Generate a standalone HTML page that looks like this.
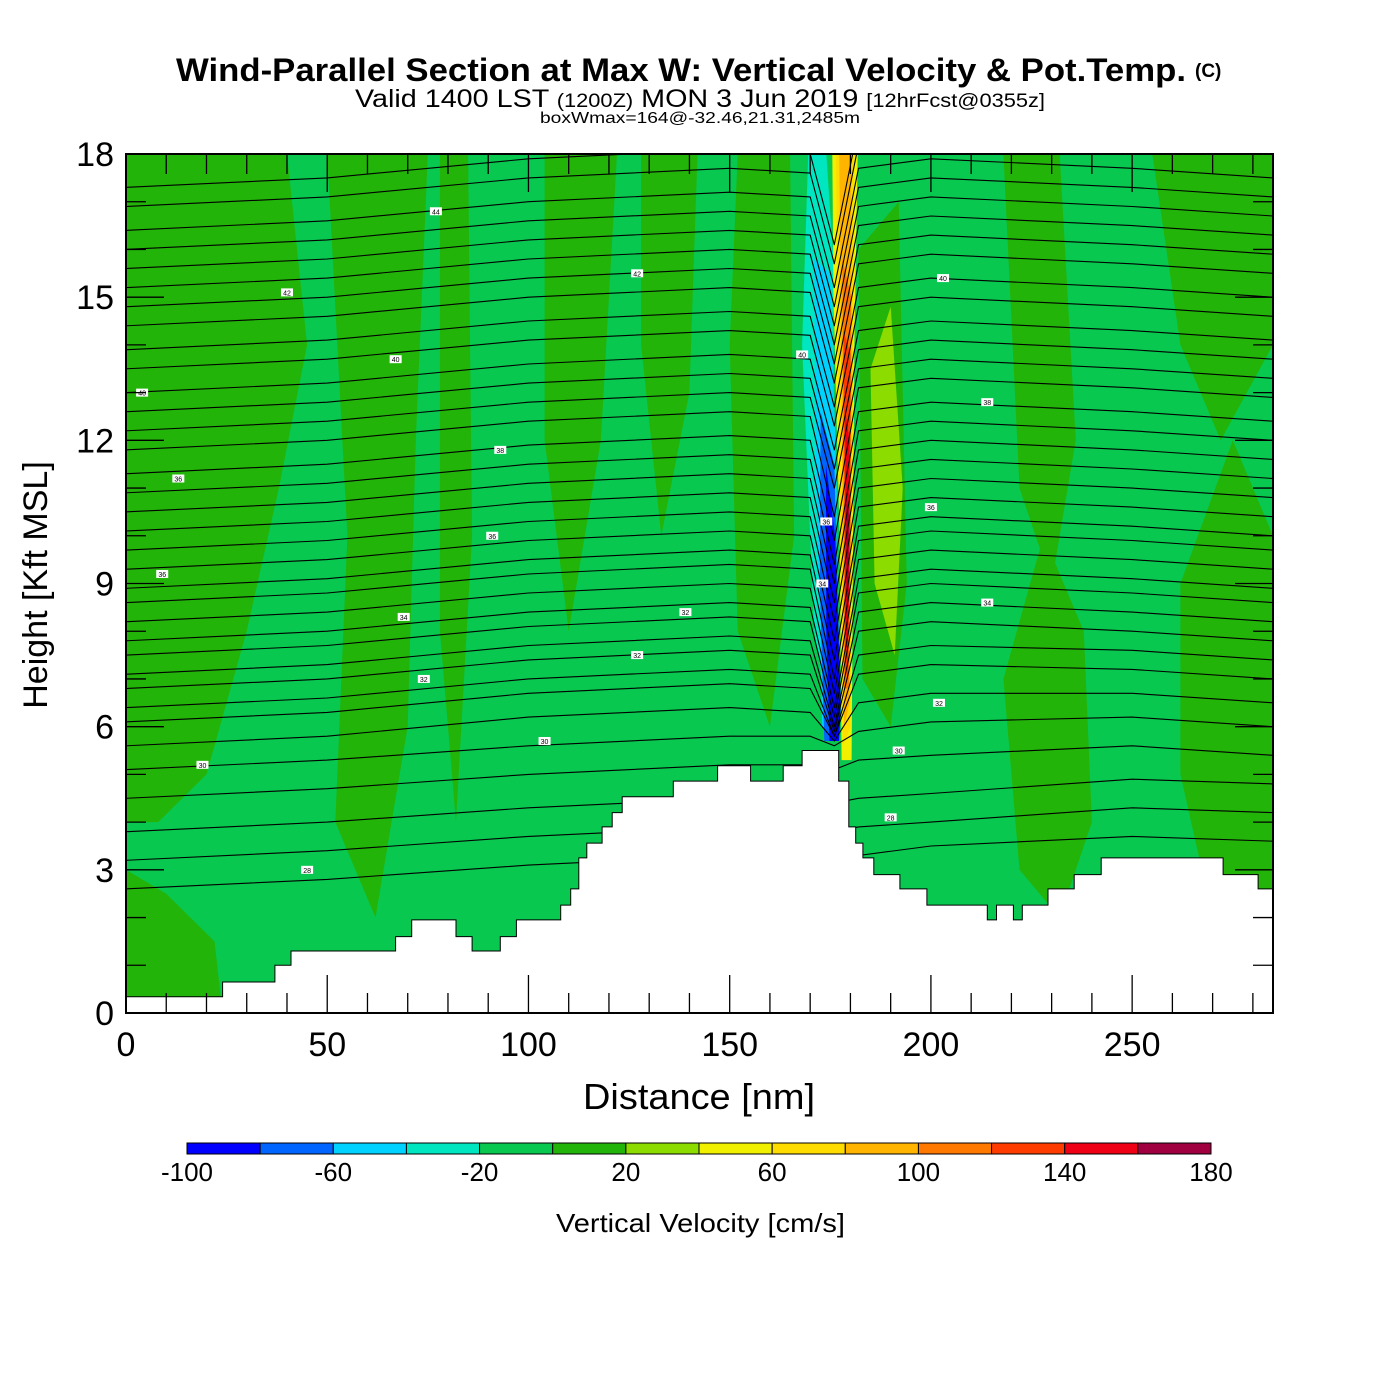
<!DOCTYPE html>
<html><head><meta charset="utf-8">
<style>
html,body{margin:0;padding:0;background:#fff;}
svg{display:block;font-family:"Liberation Sans",Arial,sans-serif;}
</style></head>
<body>
<svg id="chart" width="1400" height="1400" viewBox="0 0 1400 1400" xmlns="http://www.w3.org/2000/svg">
<rect width="1400" height="1400" fill="#fff"/>
<text x="176" y="81" font-size="32" font-weight="bold" textLength="1010" lengthAdjust="spacingAndGlyphs">Wind-Parallel Section at Max W: Vertical Velocity &amp; Pot.Temp.</text>
<text x="1195" y="77" font-size="19" font-weight="bold">(C)</text>
<text x="355" y="107" font-size="25" textLength="690" lengthAdjust="spacingAndGlyphs">Valid 1400 LST <tspan font-size="19">(1200Z)</tspan> MON 3 Jun 2019 <tspan font-size="19">[12hrFcst@0355z]</tspan></text>
<text x="540" y="123" font-size="16" textLength="320" lengthAdjust="spacingAndGlyphs">boxWmax=164@-32.46,21.31,2485m</text>
<defs><clipPath id="plotclip"><rect x="126" y="154" width="1147" height="859"/></clipPath></defs>
<g id="plot" clip-path="url(#plotclip)">
<rect x="126" y="154" width="1147" height="859" fill="#08c850"/>
<g id="fills"></g>
<g id="contours"></g>
<g id="terrain"></g>
<g id="labels"></g>
</g>
<rect x="126" y="154" width="1147" height="859" fill="none" stroke="#000" stroke-width="2"/>
<g id="axes"></g>
<text x="583" y="1109" font-size="36" textLength="232" lengthAdjust="spacingAndGlyphs">Distance [nm]</text>
<text transform="translate(47,585) rotate(-90)" text-anchor="middle" font-size="34">Height [Kft MSL]</text>
<g id="colorbar"></g>
<text x="556" y="1232" font-size="26" textLength="289" lengthAdjust="spacingAndGlyphs">Vertical Velocity [cm/s]</text>
</svg>
<script>
// ---- data ----
const xTicks = [0,50,100,150,200,250];
const yTicks = [0,3,6,9,12,15,18];
const cbLevels = [-100,-80,-60,-40,-20,0,20,40,60,80,100,120,140,160,180];
const cbColors = ["#0000ff","#0064ff","#00d2ff","#00e6c0","#08c850","#23b40a","#8cdc00","#f0f000","#ffdc00","#ffb400","#ff7800","#ff3c00","#f00014","#a00040"];
const cbLabels = [-100,-60,-20,20,60,100,140,180];
// terrain steps: edges (nm) and heights (kft)
const terrainEdges = [0,24,37,41,67,71,82,86,93,97,108,110.5,112.5,114.5,118.3,120.8,123.3,136,147,155.2,163.3,168,174.5,177.1,179.6,181.3,183.1,185.8,192.3,199,214,216.3,220.5,222.7,229.1,235.6,242.3,249,272.6,281.3,285];
const terrainHeights = [0.34,0.65,1.0,1.3,1.6,1.95,1.6,1.3,1.6,1.95,2.26,2.6,3.25,3.56,3.9,4.2,4.53,4.86,5.18,4.86,5.18,5.5,5.5,4.86,3.9,3.56,3.25,2.9,2.6,2.26,1.95,2.26,1.95,2.26,2.6,2.9,3.25,3.25,2.9,2.6];
// theta contours: heights (kft) at distance nodes
const contourNodes = [0,50,100,150,170,176,182,200,250,285];
const contourLevels = [
[17.3,17.5,17.9,18.1,18.0,16.1,18.6,18.8,18.6,18.4],
[16.9,17.1,17.5,17.7,17.6,15.7,18.2,18.4,18.2,18.0],
[16.4,16.6,17.0,17.2,17.1,15.2,17.7,17.9,17.7,17.5],
[16.0,16.2,16.6,16.8,16.7,14.8,17.3,17.5,17.3,17.1],
[15.6,15.8,16.2,16.4,16.3,14.4,16.9,17.1,16.9,16.7],
[15.2,15.4,15.8,16.0,15.9,14.0,16.5,16.7,16.5,16.3],
[14.8,15.0,15.4,15.6,15.5,13.6,16.1,16.3,16.1,15.9],
[14.4,14.6,15.0,15.2,15.1,13.2,15.7,15.9,15.7,15.5],
[13.9,14.1,14.5,14.7,14.6,12.7,15.2,15.4,15.2,15.0],
[13.5,13.7,14.1,14.3,14.2,12.3,14.8,15.0,14.8,14.6],
[13.0,13.2,13.6,13.8,13.7,11.8,14.3,14.5,14.3,14.1],
[12.6,12.8,13.2,13.4,13.3,11.4,13.9,14.1,13.9,13.7],
[12.2,12.4,12.8,13.0,12.9,11.0,13.5,13.7,13.5,13.3],
[11.8,12.0,12.4,12.6,12.5,10.4,13.1,13.3,13.1,12.9],
[11.3,11.5,11.9,12.1,12.0,9.9,12.6,12.8,12.6,12.4],
[10.9,11.1,11.5,11.7,11.6,9.4,12.2,12.4,12.2,12.0],
[10.5,10.7,11.1,11.3,11.2,9.0,11.8,12.0,11.8,11.6],
[10.1,10.3,10.7,10.9,10.8,8.6,11.4,11.6,11.4,11.2],
[9.7,9.9,10.3,10.5,10.4,8.2,11.0,11.2,11.0,10.8],
[9.3,9.5,9.9,10.1,10.0,7.8,10.6,10.8,10.6,10.4],
[8.9,9.1,9.5,9.7,9.6,7.4,10.2,10.4,10.2,10.0],
[8.6,8.8,9.2,9.4,9.3,7.0,9.9,10.1,9.9,9.7],
[8.2,8.4,8.8,9.0,8.9,6.7,9.5,9.7,9.5,9.3],
[7.8,8.0,8.4,8.6,8.5,6.4,9.1,9.3,9.1,8.9],
[7.5,7.7,8.1,8.3,8.2,6.2,8.8,9.0,8.8,8.6],
[7.1,7.3,7.7,7.9,7.8,6.0,8.4,8.6,8.4,8.2],
[6.8,7.0,7.4,7.6,7.5,5.9,8.0,8.2,8.0,7.8],
[6.4,6.6,7.0,7.2,7.1,5.8,7.5,7.7,7.6,7.4],
[6.1,6.3,6.7,6.9,6.8,5.8,7.1,7.3,7.2,7.0],
[5.6,5.8,6.2,6.4,6.3,5.7,6.5,6.7,6.7,6.5],
[5.1,5.3,5.6,5.8,5.8,5.6,5.9,6.1,6.2,6.0],
[4.5,4.7,5.0,5.2,5.2,5.1,5.3,5.4,5.6,5.4],
[3.8,4.0,4.3,4.5,4.5,4.4,4.5,4.6,4.9,4.8],
[3.2,3.4,3.7,3.9,3.9,3.8,3.9,4.0,4.3,4.2],
[2.6,2.8,3.1,3.3,3.3,3.2,3.3,3.5,3.7,3.6]
];
// filled w-regions: [colour index, [nm,kft] vertices]
const fillRegions = [
[5,[[0,18],[40,18],[45,14],[38,11],[30,8],[20,5],[8,4],[0,4]]],
[5,[[0,3],[10,2.5],[22,1.5],[24,0],[0,0]]],
[5,[[50,18],[75,18],[72,12],[70,6],[62,2],[52,4],[55,10]]],
[5,[[78,18],[85,18],[86,10],[82,4],[78,8]]],
[5,[[104,18],[122,18],[118,12],[110,8],[104,12]]],
[5,[[128,18],[142,18],[140,13],[133,10],[128,14]]],
[5,[[152,18],[165,18],[166,10],[160,6],[152,8],[150,14]]],
[5,[[182,16],[192,17],[194,9],[190,6],[183,7]]],
[5,[[218,18],[232,18],[236,12],[230,9],[222,11]]],
[5,[[218,7],[228,10],[238,8],[240,4],[232,2],[222,3]]],
[5,[[255,18],[285,18],[285,14],[272,12],[262,14]]],
[5,[[262,9],[275,12],[285,10],[285,2],[270,2],[262,5]]],
[6,[[185,13.5],[190,14.8],[193,11],[191,7.5],[186,9]]],
[3,[[169.5,18],[174,18],[176,15.5],[175,6],[171,8],[168,14]]],
[2,[[171,15.8],[175,15.5],[176.6,11],[176.5,5.7],[173,6],[171.5,11]]],
[1,[[172.6,12.6],[176,11.5],[177.4,7],[177,5.7],[173.5,5.7],[172.4,9]]],
[0,[[173.9,11.5],[176.2,10],[177.6,6.5],[177.2,5.7],[174.8,5.7],[174,8]]],
[7,[[175.5,18],[181.8,18],[181,14],[180.3,5.3],[177.8,5.3],[177.3,10],[175.8,15]]],
[8,[[176.4,18],[181,18],[180.6,13],[180,6],[178.2,5.6],[177.6,10],[176.8,15]]],
[9,[[177.2,18],[180.2,18],[180.3,13],[179.8,6.5],[178.4,6],[178,11]]],
[10,[[178,15.8],[180.2,15],[180.1,10],[179.6,6.8],[178.5,6.8],[178.3,11]]],
[11,[[178.3,14.3],[180,13.8],[179.9,10],[179.4,7],[178.7,7.2],[178.5,11]]],
[12,[[178.7,12.6],[179.8,12],[179.7,9],[179.2,7.3],[178.8,8]]],
[13,[[179,10.8],[179.6,10.5],[179.5,8.8],[179.1,8.5]]]
];
const contourLabels = [[77,16.8,"44"],[127,15.5,"42"],[40,15.1,"42"],[67,13.7,"40"],[4,13.0,"40"],[168,13.8,"40"],[203,15.4,"40"],[214,12.8,"38"],[93,11.8,"38"],[13,11.2,"36"],[200,10.6,"36"],[91,10.0,"36"],[174,10.3,"36"],[9,9.2,"36"],[173,9.0,"34"],[69,8.3,"34"],[139,8.4,"32"],[214,8.6,"34"],[127,7.5,"32"],[74,7.0,"32"],[202,6.5,"32"],[104,5.7,"30"],[192,5.5,"30"],[19,5.2,"30"],[190,4.1,"28"],[45,3.0,"28"]];
// ---- scales ----
const X0=126,X1=1273,Y0=1013,Y1=154,XMAX=285,YMAX=18;
const sx=d=>X0+(d/XMAX)*(X1-X0);
const sy=h=>Y0-(h/YMAX)*(Y0-Y1);
const NS="http://www.w3.org/2000/svg";
function mk(tag,attrs,parent){const e=document.createElementNS(NS,tag);for(const k in attrs)e.setAttribute(k,attrs[k]);parent.appendChild(e);return e;}
// fills
const gF=document.getElementById("fills");
fillRegions.forEach((r,i)=>{
  const p=mk("polygon",{points:r[1].map(v=>sx(v[0]).toFixed(1)+","+sy(v[1]).toFixed(1)).join(" "),fill:cbColors[r[0]]},gF);
  
  
});
// contours
const gC=document.getElementById("contours");
contourLevels.forEach((lv,i)=>{
  const pts=lv.map((h,j)=>sx(contourNodes[j]).toFixed(1)+","+sy(h).toFixed(1)).join(" ");
  const pl=mk("polyline",{points:pts,fill:"none",stroke:"#000","stroke-width":1.1,"stroke-linejoin":"round"},gC);
  
  
});
// terrain
const gT=document.getElementById("terrain");
let tp=[[sx(0),sy(0)]];
terrainHeights.forEach((h,i)=>{tp.push([sx(terrainEdges[i]),sy(h)]);tp.push([sx(terrainEdges[i+1]),sy(h)]);});
tp.push([sx(XMAX),sy(0)]);
const terr=mk("polygon",{points:tp.map(p=>p[0].toFixed(1)+","+p[1].toFixed(1)).join(" "),fill:"#fff",stroke:"#000","stroke-width":1},gT);


// contour labels
const gL=document.getElementById("labels");
contourLabels.forEach(l=>{
  const r=mk("rect",{x:sx(l[0])-6,y:sy(l[1])-4,width:12,height:8,fill:"#fff"},gL);
  
  
  const t=mk("text",{x:sx(l[0]),y:sy(l[1])+3,"font-size":7,"text-anchor":"middle"},gL);
  t.textContent=l[2];
  
  
});
// axes
const gA=document.getElementById("axes");
for(let d=0;d<=280;d+=10){
  const major=d%50===0, L=major?38:20;
  mk("line",{x1:sx(d),x2:sx(d),y1:Y0,y2:Y0-L,stroke:"#000","stroke-width":1.3},gA);
  mk("line",{x1:sx(d),x2:sx(d),y1:Y1,y2:Y1+L,stroke:"#000","stroke-width":1.3},gA);
}
for(let h=0;h<=18;h+=1){
  const major=h%3===0, L=major?38:20;
  mk("line",{x1:X0,x2:X0+L,y1:sy(h),y2:sy(h),stroke:"#000","stroke-width":1.3},gA);
  mk("line",{x1:X1,x2:X1-L,y1:sy(h),y2:sy(h),stroke:"#000","stroke-width":1.3},gA);
}
xTicks.forEach(d=>{
  const t=mk("text",{x:sx(d),y:1056,"font-size":34,"text-anchor":"middle"},gA);
  t.textContent=d;
  
  
});
yTicks.forEach(h=>{
  const t=mk("text",{x:114,y:sy(h)+12,"font-size":34,"text-anchor":"end"},gA);
  t.textContent=h;
  
  
});
// colorbar
const gB=document.getElementById("colorbar");
const CB0=187,CB1=1211,cw=(CB1-CB0)/cbColors.length;
cbColors.forEach((c,i)=>{
  const r=mk("rect",{x:CB0+i*cw,y:1143,width:cw,height:11,fill:c,stroke:"#000","stroke-width":1},gB);
  
  
});
cbLabels.forEach(v=>{
  const i=cbLevels.indexOf(v);
  const t=mk("text",{x:CB0+i*cw,y:1181,"font-size":26,"text-anchor":"middle"},gB);
  t.textContent=v;
  
  
});
</script>
</body></html>
